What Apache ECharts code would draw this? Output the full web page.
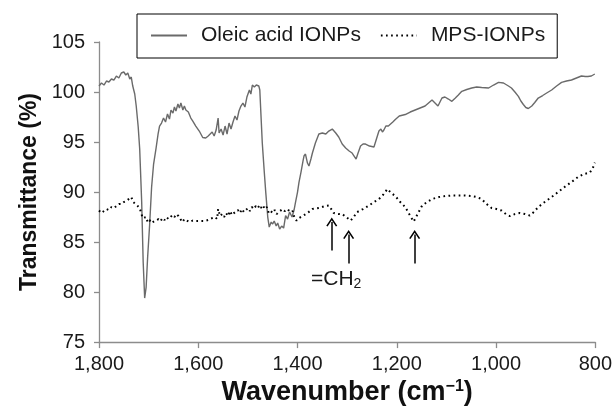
<!DOCTYPE html>
<html>
<head>
<meta charset="utf-8">
<script src="https://cdn.jsdelivr.net/npm/echarts@6/dist/echarts.min.js"></script>
<style>html,body{margin:0;padding:0;background:#fff;}#c{width:615px;height:411px;}</style>
</head>
<body>
<div id="c"></div>
<script>
// Oleic acid IONPs: wavenumber (cm-1) and transmittance (%)
var oleicWn = [1800,1795,1790,1785,1780,1775,1770,1765,1760,1755,1750,1746,1742,1738,1735,1732,1728,1725,1721,1718,1714,1711,1708,1705,1702,1698,1694,1690,1685,1681,1678,1674,1670,1666,1662,1658,1655,1651,1648,1645,1641,1638,1635,1631,1628,1625,1620,1615,1611,1605,1598,1591,1585,1580,1576,1572,1568,1564,1560,1558,1554,1550,1546,1542,1538,1534,1530,1526,1522,1518,1514,1510,1506,1502,1497,1494,1491,1487,1483,1478,1476,1473,1471,1467,1464,1460,1457,1453,1450,1447,1443,1440,1436,1432,1428,1424,1420,1416,1411,1407,1404,1400,1397,1393,1389,1387,1384,1380,1377,1373,1370,1364,1357,1350,1343,1337,1330,1323,1317,1310,1303,1296,1290,1286,1282,1278,1273,1268,1263,1255,1246,1241,1236,1232,1229,1226,1222,1217,1213,1208,1203,1195,1183,1173,1163,1153,1143,1136,1129,1123,1117,1113,1109,1103,1096,1089,1082,1076,1069,1059,1049,1039,1029,1015,1005,995,985,975,969,962,955,950,945,940,935,928,922,915,906,898,888,878,868,858,848,838,828,820,815,808,801];
var oleicT = [100.6,100.9,100.7,101.1,101.0,101.3,101.2,101.6,101.4,101.9,102.0,101.7,101.9,101.3,101.5,100.6,99.8,98.6,96.5,94.3,89.0,83.0,79.4,80.5,83.5,86.7,90.5,92.8,94.4,95.8,96.6,96.9,97.4,97.0,97.8,97.3,98.2,97.9,98.5,98.1,98.8,98.4,98.9,98.2,98.6,98.2,98.0,97.4,97.1,96.6,96.1,95.45,95.4,95.6,95.5,96.0,95.6,96.2,97.4,95.9,96.3,95.7,96.6,95.8,96.9,96.3,97.0,97.6,97.2,98.1,98.6,98.9,98.5,99.5,100.2,99.8,100.7,100.5,100.7,100.6,100.2,97.0,94.9,92.0,89.97,87.5,86.5,87.0,86.8,87.1,86.6,86.9,86.3,86.6,86.4,87.65,87.3,88.0,87.5,88.2,89.0,90.0,91.0,92.0,93.1,93.6,93.8,92.9,92.6,93.3,93.9,94.9,95.8,95.9,95.8,96.1,96.3,95.9,95.5,94.8,94.4,94.1,93.9,93.6,93.3,93.9,94.6,94.8,94.8,94.6,94.5,95.3,96.1,96.3,96.0,96.2,96.6,96.6,96.7,97.0,97.25,97.6,97.75,98.0,98.2,98.4,98.6,98.9,99.2,98.9,98.6,99.0,99.4,99.5,99.3,99.07,99.4,99.7,100.07,100.25,100.4,100.5,100.45,100.4,100.7,100.96,100.9,100.6,100.4,100.0,99.57,99.1,98.75,98.45,98.35,98.6,98.95,99.4,99.65,99.9,100.2,100.6,100.96,101.1,101.2,101.4,101.6,101.55,101.55,101.6,101.8];

// MPS-IONPs: wavenumber (cm-1) and transmittance (%)
var mpsWn = [1800,1795,1790,1785,1780,1775,1770,1765,1760,1755,1750,1745,1740,1735,1731,1727,1722,1718,1715,1712,1708,1705,1702,1698,1695,1692,1688,1685,1680,1676,1672,1668,1664,1660,1656,1652,1648,1644,1640,1636,1632,1628,1624,1618,1611,1604,1596,1588,1580,1572,1566,1562,1560,1556,1552,1548,1544,1540,1536,1532,1528,1524,1520,1516,1512,1508,1504,1500,1496,1492,1488,1484,1480,1477,1474,1470,1466,1462,1458,1454,1450,1446,1442,1438,1434,1430,1426,1420,1415,1410,1406,1402,1397,1390,1380,1370,1357,1345,1337,1332,1327,1318,1310,1302,1293,1287,1280,1268,1256,1246,1236,1228,1219,1211,1203,1193,1183,1175,1166,1158,1149,1139,1129,1115,1102,1089,1076,1062,1049,1039,1029,1019,1009,999,989,980,972,962,952,942,932,924,915,902,888,875,862,848,835,823,811,805,801];
var mpsT = [88.15,87.9,88.1,88.3,88.2,88.5,88.4,88.6,88.8,88.8,89.0,89.1,89.3,89.5,89.0,88.9,88.6,88.4,87.9,87.4,87.3,87.5,87.0,87.2,86.9,86.8,87.1,87.0,87.3,87.1,87.4,87.2,87.5,87.3,87.4,87.7,87.5,87.8,87.6,87.5,87.0,87.3,87.2,87.0,87.15,87.1,87.1,87.1,87.2,87.4,87.5,87.3,88.3,87.6,87.8,87.5,87.9,87.6,88.1,87.7,87.9,87.8,88.2,87.9,88.3,88.0,88.2,88.4,88.1,88.5,88.3,88.6,88.4,88.65,88.4,88.7,88.3,88.5,87.9,88.1,87.9,88.2,87.8,88.0,87.9,88.3,88.1,88.3,88.0,88.1,87.4,87.15,87.4,87.6,87.9,88.3,88.4,88.6,88.65,88.3,87.9,87.8,87.8,87.5,87.15,87.5,88.0,88.3,88.65,89.0,89.3,89.7,90.3,89.9,89.6,89.0,88.5,87.8,87.05,87.8,88.65,89.0,89.3,89.5,89.6,89.65,89.65,89.65,89.6,89.5,89.3,88.8,88.4,88.3,88.15,87.8,87.6,87.8,87.9,87.8,87.65,88.0,88.5,89.0,89.5,90.0,90.5,91.0,91.5,91.8,91.95,92.4,92.95];

// Annotation arrows (=CH2)
var arrowWn = [1331, 1297, 1164];
var arrowTail = [84.15, 82.85, 82.85];
var arrowHead = [87.0, 85.75, 85.75];

var seriesNames = ['Oleic acid IONPs', 'MPS-IONPs'];
var xTicks = {min: 800, max: 1800, step: 200};
var yTicks = {min: 75, max: 105, step: 5};

function pairs(xs, ys) { return xs.map(function (x, i) { return [x, ys[i]]; }); }

var chart = echarts.init(document.getElementById('c'), null, {renderer: 'canvas'});
var FONT = 'Liberation Sans, Arial, sans-serif';
var axisGrey = '#8c8c8c';

var option = {
  animation: false,
  backgroundColor: '#fff',
  textStyle: {fontFamily: FONT},
  grid: {left: 99, right: 18, top: 42, bottom: 67},
  legend: {
    data: seriesNames.map(function (n) { return {name: n, itemStyle: {opacity: 0}}; }),
    left: 137, top: 14,
    padding: [11, 12, 12, 13],
    borderColor: '#000', borderWidth: 1,
    itemWidth: 36, itemHeight: 14, itemGap: 19,
    textStyle: {fontFamily: FONT, fontSize: 21, color: '#1a1a1a', padding: [0, 0, 0, 9]},
    selectedMode: false
  },
  xAxis: {
    type: 'value', inverse: true,
    min: xTicks.min, max: xTicks.max, interval: xTicks.step,
    name: '{a|Wavenumber (cm}{s|\u22121}{a|)}',
    nameLocation: 'middle', nameGap: 34,
    nameTextStyle: {
      rich: {
        a: {fontFamily: FONT, fontSize: 27, fontWeight: 'bold', color: '#111'},
        s: {fontFamily: FONT, fontSize: 16, fontWeight: 'bold', color: '#111', verticalAlign: 'top', padding: [0, 0, 10, 0]}
      }
    },
    axisLine: {lineStyle: {color: axisGrey, width: 1.3}},
    axisTick: {show: true, inside: false, length: 6, lineStyle: {color: axisGrey, width: 1.3}},
    axisLabel: {fontFamily: FONT, fontSize: 20, color: '#1a1a1a', margin: 12,
      formatter: function (v) { return v.toLocaleString('en-US'); }},
    splitLine: {show: false}
  },
  yAxis: {
    type: 'value',
    min: yTicks.min, max: yTicks.max, interval: yTicks.step,
    name: 'Transmittance (%)',
    nameLocation: 'middle', nameGap: 55,
    nameTextStyle: {fontFamily: FONT, fontSize: 23, fontWeight: 'bold', color: '#111'},
    axisLine: {show: true, lineStyle: {color: axisGrey, width: 1.3}},
    axisTick: {show: true, inside: false, length: 5, lineStyle: {color: axisGrey, width: 1.3}},
    axisLabel: {fontFamily: FONT, fontSize: 20, color: '#1a1a1a', margin: 14},
    splitLine: {show: false}
  },
  series: [
    {
      name: seriesNames[0], type: 'line', symbol: 'none', showSymbol: false,
      data: pairs(oleicWn, oleicT),
      lineStyle: {color: '#6a6a6a', width: 1.4},
      itemStyle: {color: '#6a6a6a'},
      z: 2
    },
    {
      name: seriesNames[1], type: 'line', symbol: 'none', showSymbol: false,
      data: pairs(mpsWn, mpsT),
      lineStyle: {color: '#000', width: 2, type: [1.7, 3.4]},
      itemStyle: {color: '#000'},
      z: 3,
      markLine: {
        silent: true, animation: false,
        symbol: ['none', 'path://M0,8 L5,0 L10,8 L8.8,8.8 L5,2.6 L1.2,8.8 Z'],
        symbolSize: [11, 9],
        lineStyle: {color: '#000', width: 1.5, type: 'solid'},
        label: {show: false},
        data: arrowWn.map(function (w, i) {
          return [{coord: [w, arrowTail[i]]}, {coord: [w, arrowHead[i]]}];
        })
      }
    }
  ],
  graphic: [{
    type: 'text', left: 311, top: 269,
    style: {
      text: '{a|=CH}{s|2}',
      rich: {
        a: {fontFamily: FONT, fontSize: 21, fill: '#1a1a1a'},
        s: {fontFamily: FONT, fontSize: 14, fill: '#1a1a1a', verticalAlign: 'bottom', padding: [10, 0, 0, 0]}
      }
    }
  }]
};
chart.setOption(option);
</script>
</body>
</html>
